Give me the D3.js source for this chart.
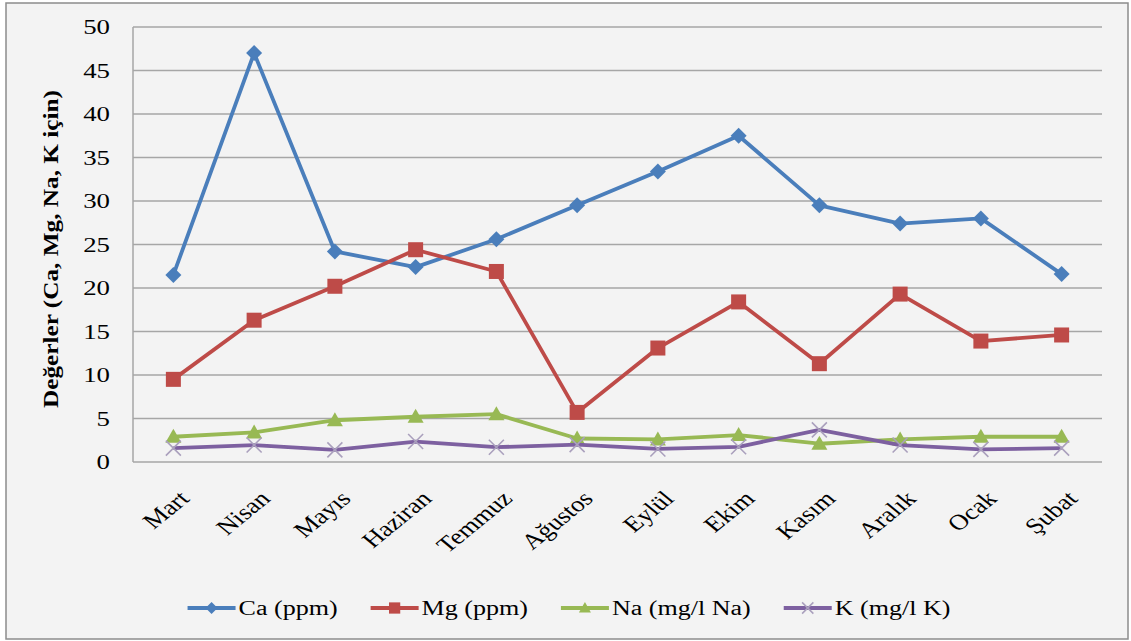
<!DOCTYPE html>
<html>
<head>
<meta charset="utf-8">
<script src="https://cdn.jsdelivr.net/npm/d3@7"></script>
<style>
  html, body { margin: 0; padding: 0; background: #ffffff; }
  svg { display: block; }
  text { font-family: "Liberation Serif", "Times New Roman", serif; fill: #000; }
</style>
</head>
<body>
<svg id="chart" width="1131" height="641"></svg>
<script>
// Monthly categories
const months = ["Mart", "Nisan", "Mayıs", "Haziran", "Temmuz", "Ağustos",
                "Eylül", "Ekim", "Kasım", "Aralık", "Ocak", "Şubat"];

// Series values per month
const ca = [21.5, 47.0, 24.2, 22.4, 25.6, 29.5, 33.4, 37.5, 29.5, 27.4, 28.0, 21.6];
const mg = [9.5, 16.3, 20.2, 24.4, 21.9, 5.7, 13.1, 18.4, 11.3, 19.3, 13.9, 14.6];
const na = [2.9, 3.4, 4.8, 5.2, 5.5, 2.7, 2.6, 3.1, 2.1, 2.6, 2.9, 2.9];
const k  = [1.6, 1.95, 1.4, 2.35, 1.7, 2.0, 1.5, 1.75, 3.7, 1.95, 1.45, 1.6];

// Y axis ticks
const yTicks = [0, 5, 10, 15, 20, 25, 30, 35, 40, 45, 50];

const seriesNames = ["Ca (ppm)", "Mg (ppm)", "Na (mg/l Na)", "K (mg/l K)"];

const series = [
  { name: seriesNames[0], values: ca, color: "#4a7ebb", marker: "diamond" },
  { name: seriesNames[1], values: mg, color: "#be4b48", marker: "square" },
  { name: seriesNames[2], values: na, color: "#98b954", marker: "triangle" },
  { name: seriesNames[3], values: k,  color: "#7d60a0", marker: "cross" }
];

const svg = d3.select("#chart");
const SX = 1.22;      // horizontal widening of axis text
const SXL = 1.27;     // horizontal widening of legend text

// Chart frame
svg.append("rect").attr("x", 6).attr("y", 3).attr("width", 1122).attr("height", 636)
  .attr("fill", "#f3f3f3").attr("stroke", "#8c8c8c").attr("stroke-width", 1.5);

const plot = { left: 133, right: 1102, top: 27, bottom: 462 };

const x = d3.scaleBand().domain(months).range([plot.left, plot.right]);
const y = d3.scaleLinear().domain([0, 50]).range([plot.bottom, plot.top]);

// Gridlines
svg.append("g").selectAll("line").data(yTicks).join("line")
  .attr("x1", plot.left).attr("x2", plot.right)
  .attr("y1", d => y(d)).attr("y2", d => y(d))
  .attr("stroke", "#a6a6a6").attr("stroke-width", 1.5);

// Value axis line
svg.append("line").attr("x1", plot.left).attr("x2", plot.left)
  .attr("y1", plot.top).attr("y2", plot.bottom)
  .attr("stroke", "#a6a6a6").attr("stroke-width", 1.5);

// Y tick labels
svg.append("g").selectAll("text").data(yTicks).join("text")
  .attr("transform", d => `translate(110,${y(d)}) scale(${SX},1)`)
  .attr("text-anchor", "end").attr("dy", "0.34em")
  .style("font-size", "22px")
  .text(d => d);

// X tick labels (rotated)
svg.append("g").selectAll("text").data(months).join("text")
  .attr("transform", d => `translate(${x(d) + x.bandwidth() / 2 + 4},489) scale(${SX},1) rotate(-45)`)
  .attr("text-anchor", "end").attr("dy", "0.7em")
  .style("font-size", "22px")
  .text(d => d);

// Y axis title
svg.append("text")
  .attr("transform", `translate(58,249) scale(1.1,1) rotate(-90)`)
  .attr("text-anchor", "middle")
  .style("font-size", "19px").style("font-weight", "bold")
  .attr("textLength", 318).attr("lengthAdjust", "spacingAndGlyphs")
  .text("Değerler (Ca, Mg, Na, K için)");

// Marker shapes
function drawMarker(g, type, color, cx, cy, scale = 1) {
  if (type === "diamond") {
    const r = 8 * scale;
    g.append("path").attr("d", `M${cx},${cy - r}L${cx + r},${cy}L${cx},${cy + r}L${cx - r},${cy}Z`)
      .attr("fill", color);
  } else if (type === "square") {
    const s = 15 * scale;
    g.append("rect").attr("x", cx - s / 2).attr("y", cy - s / 2).attr("width", s).attr("height", s)
      .attr("fill", color);
  } else if (type === "triangle") {
    const s = 8 * scale;
    g.append("path").attr("d", `M${cx},${cy - s}L${cx + s},${cy + s * 0.75}L${cx - s},${cy + s * 0.75}Z`)
      .attr("fill", color);
  } else {
    const s = 7.5 * scale;
    g.append("path").attr("d", `M${cx - s},${cy - s}L${cx + s},${cy + s}M${cx - s},${cy + s}L${cx + s},${cy - s}`)
      .attr("stroke", "#aaa0bd").attr("stroke-width", 1.6).attr("fill", "none");
  }
}

const line = d3.line()
  .x((d, i) => x(months[i]) + x.bandwidth() / 2)
  .y(d => y(d));

// Lines and markers
series.forEach(s => {
  const g = svg.append("g");
  g.append("path").datum(s.values).attr("d", line)
    .attr("fill", "none").attr("stroke", s.color).attr("stroke-width", 3.8)
    .attr("stroke-linejoin", "round");
  s.values.forEach((v, i) => {
    drawMarker(g, s.marker, s.color, x(months[i]) + x.bandwidth() / 2, y(v));
  });
});

// Legend
const legend = svg.append("g");
const legendY = 608;
const lineLen = 48, textGap = 3, itemGap = 33;
const items = series.map(s => {
  const t = legend.append("text").style("font-size", "20.5px").attr("dy", "0.34em").text(s.name);
  return { s, t, w: t.node().getComputedTextLength() * SXL };
});
const total = d3.sum(items, d => lineLen + textGap + d.w) + itemGap * (items.length - 1);
let lx = 569 - total / 2;
items.forEach(it => {
  legend.append("line").attr("x1", lx).attr("x2", lx + lineLen)
    .attr("y1", legendY).attr("y2", legendY)
    .attr("stroke", it.s.color).attr("stroke-width", 3.8);
  drawMarker(legend, it.s.marker, it.s.color, lx + lineLen / 2, legendY, 0.75);
  it.t.attr("transform", `translate(${lx + lineLen + textGap},${legendY}) scale(${SXL},1)`);
  lx += lineLen + textGap + it.w + itemGap;
});
</script>
</body>
</html>
